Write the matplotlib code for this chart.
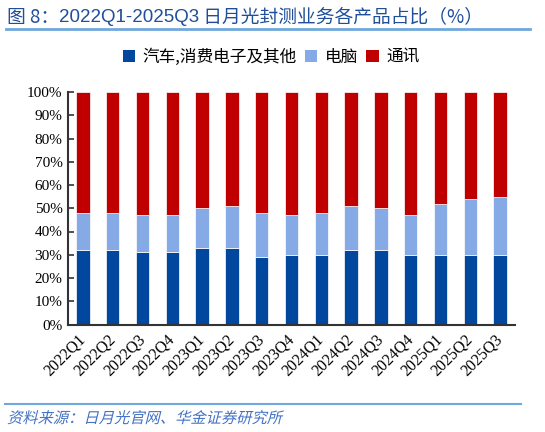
import matplotlib
matplotlib.use("Agg")
import matplotlib.pyplot as plt
import numpy as np
from matplotlib.lines import Line2D
from matplotlib.patches import Patch, PathPatch
from matplotlib.textpath import TextPath
from matplotlib.font_manager import FontProperties
from matplotlib.transforms import Affine2D

categories = ["2022Q1", "2022Q2", "2022Q3", "2022Q4", "2023Q1", "2023Q2", "2023Q3", "2023Q4",
              "2024Q1", "2024Q2", "2024Q3", "2024Q4", "2025Q1", "2025Q2", "2025Q3"]
auto_consumer = [32, 32, 31, 31, 33, 33, 29, 30, 30, 32, 32, 30, 30, 30, 30]
computer = [16, 16, 16, 16, 17, 18, 19, 17, 18, 19, 18, 17, 22, 24, 25]
comm = [100 - a - c for a, c in zip(auto_consumer, computer)]
series_names = ["汽车,消费电子及其他", "电脑", "通讯"]
colors = ["#00479D", "#86AAE6", "#C00000"]
yticks = [0, 10, 20, 30, 40, 50, 60, 70, 80, 90, 100]

title_parts = ["图 8：", "2022Q1-2025Q3", " 日月光封测业务各产品占比（%）"]
source_text = "资料来源：日月光官网、华金证券研究所"

cjk = ["Noto Sans CJK SC", "DejaVu Sans"]
plt.rcParams["font.family"] = cjk

fig = plt.figure(figsize=(5.45, 4.32), dpi=100)
ax = fig.add_axes([68 / 545, 1 - 324.5 / 432, (515 - 68) / 545, (324.5 - 92) / 432])

x = np.arange(len(categories))
w = 0.45
a = np.array(auto_consumer)
c = np.array(computer)
r = np.array(comm)
ax.bar(x, a, w, color=colors[0], edgecolor="white", linewidth=0.5, label=series_names[0])
ax.bar(x, c, w, bottom=a, color=colors[1], edgecolor="white", linewidth=0.5, label=series_names[1])
ax.bar(x, r, w, bottom=a + c, color=colors[2], edgecolor="white", linewidth=0.5, label=series_names[2])

ax.set_xlim(-0.5, len(categories) - 0.5)
ax.set_ylim(0, 100)
ax.set_yticks(yticks)
ax.set_yticklabels([f"{v}%" for v in yticks], family="Liberation Serif", fontsize=11)
ax.set_xticks(x)
ax.set_xticklabels(categories, family="Liberation Serif", fontsize=11.5, rotation=45,
                   ha="right", va="center", rotation_mode="anchor")
ax.tick_params(axis="x", length=0, pad=9)
ax.tick_params(axis="y", direction="in", length=4, width=1.2, color="#333333", pad=4)
for s in ["top", "right"]:
    ax.spines[s].set_visible(False)
for s in ["left", "bottom"]:
    ax.spines[s].set_color("#333333")
    ax.spines[s].set_linewidth(1.5)

handles = [Patch(facecolor=col, edgecolor="none") for col in colors]
fig.legend(handles, series_names, loc="center", bbox_to_anchor=(271 / 545, 1 - 57 / 432),
           ncol=3, frameon=False, fontsize=12, handlelength=0.75, handleheight=0.75,
           handletextpad=0.45, columnspacing=0.48, borderaxespad=0)

# Title with mixed fonts
title_color = "#1F4E9A"
fig.canvas.draw()
renderer = fig.canvas.get_renderer()
xpos = 7
ty = 1 - 17 / 432
fams = [cjk, ["Liberation Sans"], cjk]
for part, fam in zip(title_parts, fams):
    t = fig.text(xpos / 545, ty, part, family=fam, fontsize=13.5, color=title_color,
                 ha="left", va="center")
    bb = t.get_window_extent(renderer)
    xpos += bb.width

fig.add_artist(Line2D([6 / 545, 530 / 545], [1 - 29 / 432, 1 - 29 / 432],
                      color="#6FA8DC", linewidth=2))
fig.add_artist(Line2D([5 / 545, 521 / 545], [1 - 403.5 / 432, 1 - 403.5 / 432],
                      color="#6FA8DC", linewidth=1.5))

# Italic (skewed) source note
tp = TextPath((0, 0), source_text, size=11, prop=FontProperties(family="Noto Sans CJK SC"))
x_in = 7 / 100
y_in = (432 - 423) / 100
trans = Affine2D().skew_deg(14, 0).scale(1 / 72).translate(x_in, y_in) + fig.dpi_scale_trans
fig.add_artist(PathPatch(tp, transform=trans, facecolor="#4472C4", edgecolor="none"))

fig.savefig("out.png", dpi=100)
